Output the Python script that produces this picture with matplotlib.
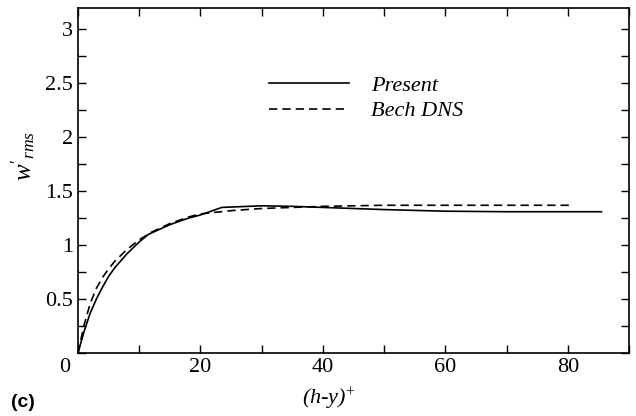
import matplotlib
matplotlib.use("Agg")
import matplotlib.pyplot as plt
from matplotlib.ticker import MultipleLocator

# Present simulation
present_x = [0, 1, 2, 3, 4, 5, 6, 8, 10, 11.5, 15, 18, 20, 23.5, 30, 35, 40, 50, 60, 70, 80, 85.5]
present_y = [0, 0.2, 0.37, 0.5, 0.61, 0.71, 0.79, 0.92, 1.03, 1.1, 1.19, 1.25, 1.28, 1.35, 1.365, 1.36, 1.35, 1.33, 1.315, 1.31, 1.31, 1.31]

# Bech DNS
bech_x = [0, 1, 2, 3, 4, 5, 6, 8, 10, 12, 15, 18, 20, 25, 30, 35, 40, 50, 60, 70, 80.6]
bech_y = [0, 0.26, 0.46, 0.6, 0.7, 0.78, 0.85, 0.96, 1.05, 1.12, 1.2, 1.26, 1.29, 1.32, 1.34, 1.35, 1.36, 1.37, 1.37, 1.37, 1.37]

plt.rcParams['font.family'] = ['Liberation Serif', 'DejaVu Serif']
plt.rcParams['mathtext.fontset'] = 'custom'
plt.rcParams['mathtext.rm'] = 'Liberation Serif'
plt.rcParams['mathtext.it'] = 'Liberation Serif:italic'

fig = plt.figure(figsize=(6.36, 4.16), dpi=100)
ax = fig.add_axes([0.1226, 0.1514, 0.8664, 0.8296])

ax.plot(present_x, present_y, color='black', lw=1.2, label='Present')
ax.plot(bech_x, bech_y, color='black', lw=1.2, ls=(0, (5, 3)), label='Bech DNS')

ax.set_xlim(0, 90)
ax.set_ylim(0, 3.2)
ax.xaxis.set_minor_locator(MultipleLocator(10))
ax.yaxis.set_minor_locator(MultipleLocator(0.25))
ax.tick_params(which='both', direction='in', top=True, right=True, labelsize=16)
ax.tick_params(which='both', length=6, width=1)
for s in ax.spines.values():
    s.set_linewidth(1.2)

ax.set_xticks([20, 40, 60, 80])
ax.set_xticklabels(['20', '40', '60', '80'])
ax.set_yticks([0.5, 1, 1.5, 2, 2.5, 3])
ax.set_yticklabels(['0.5', '1', '1.5', '2', '2.5', '3'])
ax.annotate('0', xy=(0, 0), xycoords='data', xytext=(-9.4, -10.5),
            textcoords='offset points', fontsize=16, ha='center', va='center')

ax.set_ylabel(r"$w'_{rms}$", fontsize=18)
ax.yaxis.set_label_coords(-0.075, 0.57)
ax.set_xlabel(r"(h-y)$^{+}$", fontsize=16, fontstyle='italic')
ax.xaxis.set_label_coords(0.455, -0.095)

ax.legend(loc='upper left', bbox_to_anchor=(0.33, 0.83), frameon=False,
          handlelength=3.6, prop={'style': 'italic', 'size': 16},
          labelspacing=0.22, handletextpad=1.0, borderaxespad=0)

fig.text(0.018, 0.022, '(c)', fontsize=14, fontweight='bold', family='Liberation Sans')

fig.savefig('out.png', dpi=100)
